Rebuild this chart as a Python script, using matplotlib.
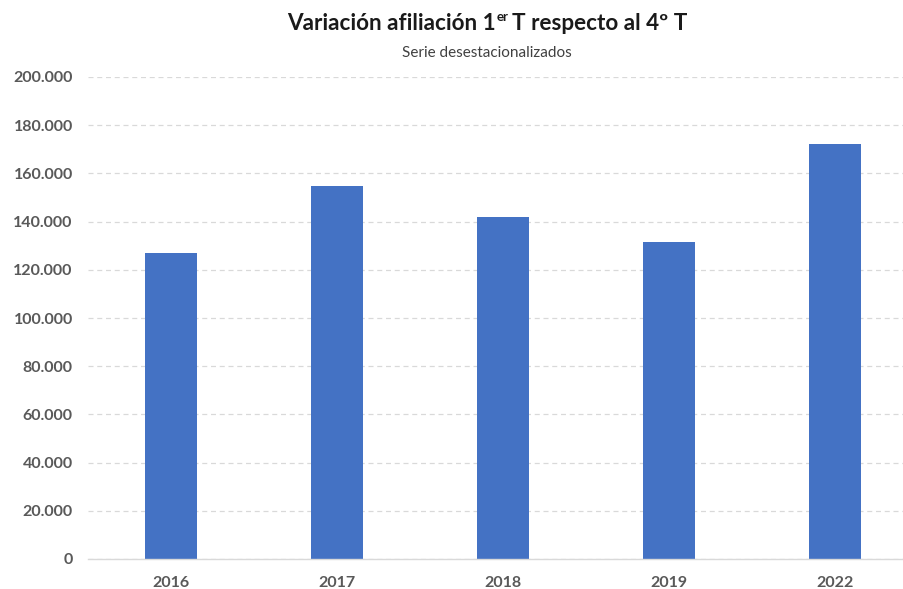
import matplotlib.pyplot as plt
import numpy as np

years = ["2016", "2017", "2018", "2019", "2022"]
values = [127100, 154800, 141800, 131400, 172100]
yticks = [0, 20000, 40000, 60000, 80000, 100000, 120000, 140000, 160000, 180000, 200000]

plt.rcParams['font.family'] = ['Lato', 'DejaVu Sans']

fig = plt.figure(figsize=(9.04, 5.89), dpi=100)
# axes: left edge at x=88px, bottom at y=559px, top at y=77px
ax = fig.add_axes([88 / 904, (589 - 559) / 589, 830 / 904, (559 - 77) / 589])

x = np.arange(len(years))
ax.bar(x, values, width=0.31, color="#4472C4", zorder=3)

ax.set_xlim(-0.5, len(years) - 0.5)
ax.set_ylim(0, 200000)
ax.set_yticks(yticks)
ax.set_yticklabels([f"{v:,}".replace(",", ".") for v in yticks],
                   fontsize=11.5, fontweight="bold", color="#595959")
ax.set_xticks(x)
ax.set_xticklabels(years, fontsize=11.5, fontweight="bold", color="#595959")
ax.tick_params(axis="both", length=0)
ax.tick_params(axis="y", pad=11)
ax.tick_params(axis="x", pad=12)

ax.yaxis.grid(True, linestyle=(0, (4, 3)), color="#D9D9D9", linewidth=0.9, zorder=0)
for s in ["top", "right", "left"]:
    ax.spines[s].set_visible(False)
ax.spines["bottom"].set_color("#D9D9D9")
ax.spines["bottom"].set_linewidth(1.0)
ax.spines["bottom"].set_zorder(4)

# title in pieces to get the superscript "er"
H = 589
base_y = H - 30  # baseline of the title in figure pixels
r = fig.canvas.get_renderer()
t1 = fig.text(287 / 904, base_y / H, "Variación afiliación 1", fontsize=16.2,
              fontweight="bold", color="#1a1a1a", ha="left", va="baseline")
bb1 = t1.get_window_extent(r)
t2 = fig.text((bb1.x1 + 1) / 904, (base_y + 9) / H, "er", fontsize=9.5,
              fontweight="bold", color="#1a1a1a", ha="left", va="baseline")
bb2 = t2.get_window_extent(r)
fig.text((bb2.x1 + 4) / 904, base_y / H, "T respecto al 4º T", fontsize=16.2,
         fontweight="bold", color="#1a1a1a", ha="left", va="baseline")

fig.text(487 / 904, 1 - 53 / 589, "Serie desestacionalizados", fontsize=11,
         color="#404040", ha="center", va="center")

fig.savefig("out.png", dpi=100)
